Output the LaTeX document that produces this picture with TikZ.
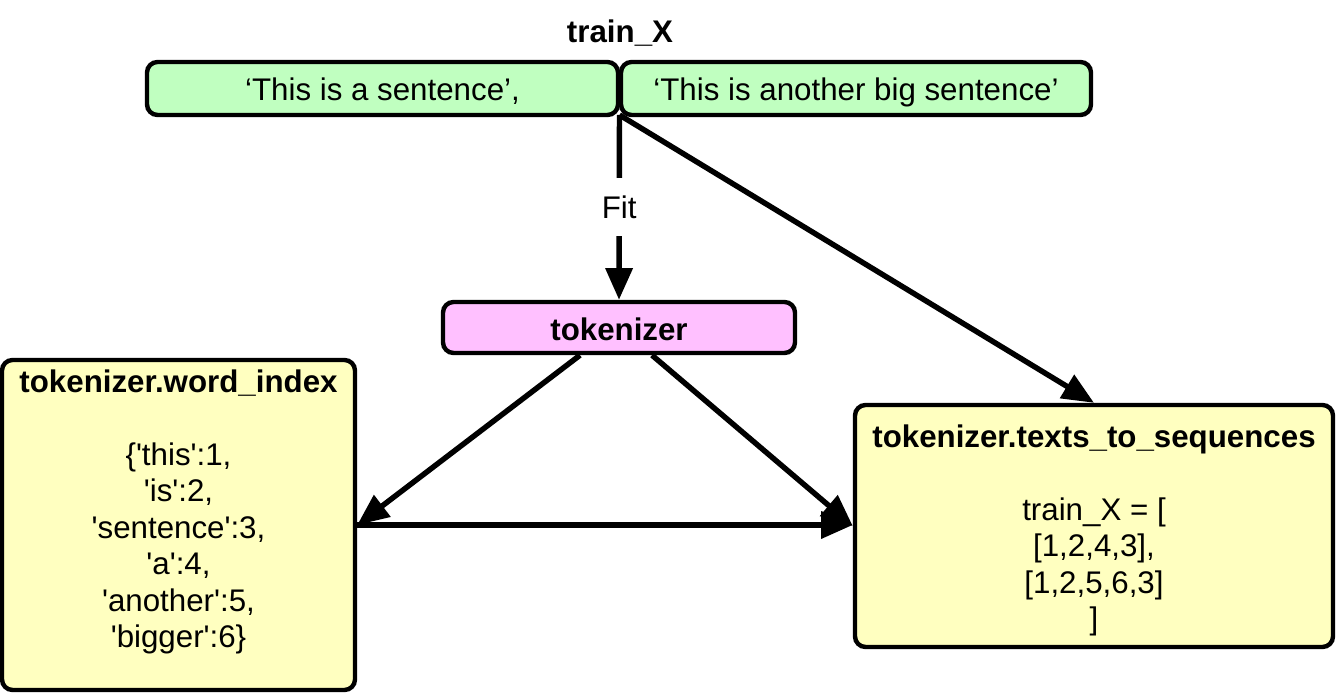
\documentclass[tikz,border=0pt]{standalone}
\usepackage{fontspec}
\setmainfont{Liberation Sans}
\usepackage{tikz}
\usetikzlibrary{arrows.meta,positioning}

\definecolor{sentgreen}{RGB}{192,255,192}
\definecolor{tokpink}{RGB}{255,192,255}
\definecolor{outyellow}{RGB}{255,255,192}
\newcommand{\sq}{\textquotesingle}

\begin{document}
\begin{tikzpicture}[
      txt/.style={font=\fontsize{17.8}{20.7}\selectfont, align=center, inner sep=0pt},
      box/.style={txt, draw, line width=2.5pt, rounded corners=6pt},
      conn/.style={-{Triangle[length=18pt,width=15pt]}, line width=3.1pt}
    ]

    \useasboundingbox (0,0) rectangle (26.72,13.88);

    % ================= input sentences =================
    \node[txt, font=\fontsize{17.8}{20.7}\selectfont\bfseries] (trainx) at (12.4,13.22) {train\_X};

    \node[box, fill=sentgreen, minimum width=9.42cm, minimum height=1.06cm, text height=16.5pt, text depth=2.5pt] (sentA) at (7.65,12.11) {‘This is a sentence’,};
    \node[box, fill=sentgreen, minimum width=9.40cm, minimum height=1.06cm, text height=16.5pt, text depth=2.5pt] (sentB) at (17.12,12.11) {‘This is another big sentence’};

    \coordinate (split) at (12.39,11.58);

    % ================= tokenizer =================
    \node[box, fill=tokpink, minimum width=7.04cm, minimum height=1.02cm, text height=15.2pt, text depth=0pt, font=\fontsize{17.8}{20.7}\selectfont\bfseries] (tok) at (12.38,7.33) {tokenizer};

    % ================= outputs =================
    \node[box, fill=outyellow, minimum width=7.06cm, minimum height=6.6cm] (wordidx) at (3.57,3.38) {};
    \node[txt, below=0.24cm of wordidx.north] (wordtxt) {\textbf{tokenizer.word\_index}\\[20.7pt]
      \{\sq this\sq:1,\\ \sq is\sq:2,\\ \sq sentence\sq:3,\\ \sq a\sq:4,\\ \sq another\sq:5,\\ \sq bigger\sq:6\}};

    \node[box, fill=outyellow, minimum width=9.56cm, minimum height=4.84cm] (seqbox) at (21.88,3.36) {};
    \node[txt, below=0.44cm of seqbox.north] (seqtxt) {\textbf{tokenizer.texts\_to\_sequences}\\[20.7pt]
      train\_X = {[}\\ {[}1,2,4,3{]},\\ {[}1,2,5,6,3{]}\\ {]}};

    % ================= connectors =================
    \draw[conn] (split) -- (tok.north) node[midway, txt, fill=white, inner ysep=10pt, inner xsep=2pt] (fitlbl) {Fit};
    \draw[conn] (split) -- (seqbox.north);

    \draw[conn] ([xshift=-0.78cm]tok.south) -- (wordidx.east);
    \draw[conn] ([xshift=0.66cm]tok.south) -- (seqbox.west);
    \draw[conn] (wordidx.east) -- (wordidx.east -| seqbox.west);

\end{tikzpicture}
\end{document}
